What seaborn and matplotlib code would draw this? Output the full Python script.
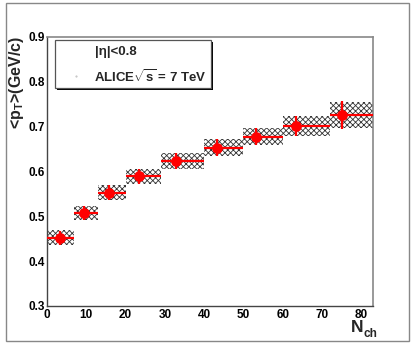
import numpy as np
import pandas as pd
import matplotlib
matplotlib.use("Agg")
import matplotlib.pyplot as plt
from matplotlib.patches import Rectangle
from matplotlib.ticker import MultipleLocator
import seaborn as sns

# ---- data ----
nch_low = [0, 7, 13, 20, 29, 40, 50, 60, 72]
nch_high = [7, 13, 20, 29, 40, 50, 60, 72, 83]
nch_mean = [3.3, 9.3, 15.7, 23.3, 32.8, 43.3, 53.2, 63.5, 75.1]
mean_pt = [0.452, 0.507, 0.553, 0.589, 0.623, 0.653, 0.678, 0.701, 0.726]
stat_err = [0.016, 0.016, 0.017, 0.017, 0.018, 0.019, 0.020, 0.022, 0.031]
syst_err = [0.017, 0.016, 0.017, 0.017, 0.0175, 0.019, 0.020, 0.022, 0.030]
legend_lines = ["|η|<0.8", "ALICE$\\sqrt{\\mathbf{s}}$ = 7 TeV"]

sns.set_style("white")
plt.rcParams['font.family'] = ['Liberation Sans', 'DejaVu Sans']
plt.rcParams['font.weight'] = 'bold'
plt.rcParams['mathtext.fontset'] = 'custom'
plt.rcParams['mathtext.rm'] = 'Liberation Sans:bold'
plt.rcParams['mathtext.bf'] = 'Liberation Sans:bold'
plt.rcParams['mathtext.it'] = 'Liberation Sans:bold'
plt.rcParams['hatch.linewidth'] = 0.6

df = pd.DataFrame({"nch": nch_mean, "pt": mean_pt, "lo": nch_low, "hi": nch_high,
                   "stat": stat_err, "syst": syst_err})

fig = plt.figure(figsize=(4.11, 3.43), dpi=100)
ax = fig.add_axes([47/411, 37/343, 326/411, 269/343])

# systematic boxes
lo = np.array(nch_low, float); hi = np.array(nch_high, float)
mp = np.array(mean_pt); sy = np.array(syst_err)
ax.bar(lo, 2*sy, width=hi-lo, bottom=mp-sy, align='edge', fill=False,
       hatch='xxxxxx', edgecolor='#333333', linewidth=0, zorder=2)

# stat errors + bin widths
mx = np.array(nch_mean)
ax.errorbar(mx, mp, xerr=[mx-lo, hi-mx], yerr=stat_err, fmt='none',
            ecolor='#ff0000', elinewidth=1.6, capsize=0, zorder=3)
sns.scatterplot(data=df, x="nch", y="pt", ax=ax, color='#ff0000', s=60,
                edgecolor='#ff0000', linewidth=0, zorder=4, legend=False)

ax.set_xlim(0, 83)
ax.set_ylim(0.3, 0.9)
ax.xaxis.set_major_locator(MultipleLocator(10))
ax.xaxis.set_minor_locator(MultipleLocator(2))
ax.yaxis.set_major_locator(MultipleLocator(0.1))
ax.yaxis.set_minor_locator(MultipleLocator(0.02))
ax.yaxis.set_major_formatter(matplotlib.ticker.FormatStrFormatter('%.1f'))
ax.tick_params(axis='both', which='both', direction='in', colors='#333333',
               labelcolor='black', width=0.9)
ax.tick_params(axis='y', which='major', length=8, pad=1.5, labelsize=8.5)
ax.tick_params(axis='y', which='minor', length=4)
ax.tick_params(axis='x', which='major', length=6, pad=2, labelsize=8.5)
ax.tick_params(axis='x', which='minor', length=3)
ax.set_xlabel(""); ax.set_ylabel("")
for s in ['left', 'bottom']:
    ax.spines[s].set_color('#444444'); ax.spines[s].set_linewidth(1.0)
for s in ['top', 'right']:
    ax.spines[s].set_color('#888888'); ax.spines[s].set_linewidth(1.2)

# axis titles (ROOT style)
fig.text(17/411, 1-36/343, "<p$_\\mathbf{T}$>(GeV/c)", rotation=90,
         ha='center', va='top', fontsize=11.5, fontweight='bold')
fig.text(363/411, 1-332/343, "N", ha='right', va='baseline',
         fontsize=12.5, fontweight='bold')
fig.text(363/411, 1-337/343, "ch", ha='left', va='baseline',
         fontsize=8.5, fontweight='bold')

# legend box with shadow
bx0, by0 = (55-47)/326, (306-88)/269
bw, bh = (211-55)/326, (88-40)/269
ax.add_patch(Rectangle((bx0+2/326, by0-2/269), bw, bh, transform=ax.transAxes,
                       facecolor='black', edgecolor='black', lw=0, zorder=5, clip_on=False))
ax.add_patch(Rectangle((bx0, by0), bw, bh, transform=ax.transAxes,
                       facecolor='white', edgecolor='#555555', lw=0.9, zorder=6, clip_on=False))
ax.text((95-47)/326, (306-52)/269, legend_lines[0], transform=ax.transAxes,
        ha='left', va='center', fontsize=9.5, fontweight='bold', zorder=7)
ax.text((94-47)/326, (306-77)/269, legend_lines[1], transform=ax.transAxes,
        ha='left', va='center', fontsize=9.5, fontweight='bold', zorder=7)
ax.plot([(76-47)/326], [(306-76)/269], transform=ax.transAxes, marker='.',
        color='#bbbbbb', markersize=1.0, zorder=7)

# outer canvas border
fig.patches.append(Rectangle((6/411, 2/343), 403/411, 338/343, transform=fig.transFigure,
                             fill=False, edgecolor='#888888', lw=1.0))

fig.savefig("out.png", dpi=100)
